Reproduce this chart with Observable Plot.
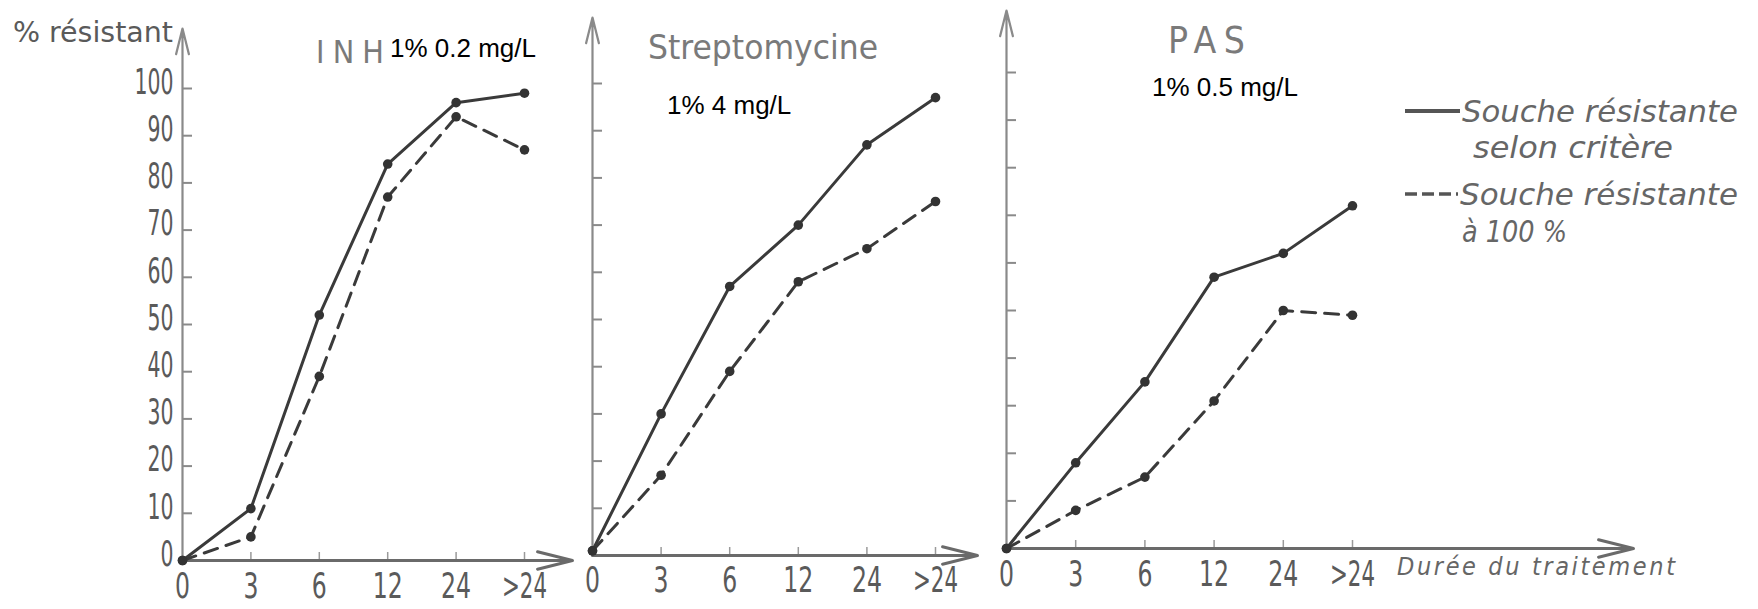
<!DOCTYPE html>
<html>
<head>
<meta charset="utf-8">
<script src="https://cdn.jsdelivr.net/npm/d3@7"></script>
<script src="https://cdn.jsdelivr.net/npm/@observablehq/plot@0.6"></script>
<style>
  html, body { margin: 0; padding: 0; background: #fff; }
  #chart { position: relative; width: 1758px; height: 609px; overflow: hidden; background: #fff; }
  #chart svg { position: absolute; left: 0; top: 0; }
</style>
</head>
<body>
<div id="chart"></div>
<script>
// Duration of treatment (months) and % of resistant strains
const durations = ["0", "3", "6", "12", "24", ">24"];
const yTicks = [0, 10, 20, 30, 40, 50, 60, 70, 80, 90, 100];

// INH 1% 0.2 mg/L
const inhCritere = [0, 11, 52, 84, 97, 99];
const inhTotal = [0, 5, 39, 77, 94, 87];
// Streptomycine 1% 4 mg/L
const strepCritere = [1, 30, 57, 70, 87, 97];
const strepTotal = [1, 17, 39, 58, 65, 75];
// PAS 1% 0.5 mg/L
const pasCritere = [0, 18, 35, 57, 62, 72];
const pasTotal = [0, 8, 15, 31, 50, 49];

const W = 1758, H = 609;
const stencil = "'Liberation Sans Narrow', 'DejaVu Sans Condensed', 'DejaVu Sans', sans-serif";
const condensed = "'DejaVu Sans Condensed', 'DejaVu Sans', sans-serif";
const ink = "#3a3a3a";

// Panel frames in pixels: origin, spacing per category, spacing per %, arrow tips
const panels = [
  {critere: inhCritere, total: inhTotal, left: 182, bottom: 560, step: 68.4, unit: 4.72, xEnd: 572, yEnd: 28, labelDy: 26, yLabels: true},
  {critere: strepCritere, total: strepTotal, left: 592, bottom: 555, step: 68.6, unit: 4.72, xEnd: 977, yEnd: 17, labelDy: 25, yLabels: false},
  {critere: pasCritere, total: pasTotal, left: 1006, bottom: 548, step: 69.2, unit: 4.76, xEnd: 1633, yEnd: 10, labelDy: 26, yLabels: false}
];

const root = document.getElementById("chart");

// narrow the stencil-like numerals to their drawn width (x labels first, then y labels)
function squeeze(svg, widths) {
  d3.select(svg).selectAll('g[aria-label="text"]').each(function (_, k) {
    const perChar = widths[k] ?? widths[0];
    d3.select(this).selectAll("text")
      .attr("textLength", function () { return this.textContent.length * perChar; })
      .attr("lengthAdjust", "spacingAndGlyphs");
  });
}

for (const p of panels) {
  const frameW = p.xEnd - p.left;
  const frameH = p.bottom - p.yEnd;
  const xMax = frameW / p.step;
  const yMax = frameH / p.unit;
  const rows = vals => vals.map((v, i) => ({i, v}));
  const svg = Plot.plot({
    width: W,
    height: H,
    marginLeft: p.left,
    marginRight: W - p.xEnd,
    marginTop: p.yEnd,
    marginBottom: H - p.bottom,
    x: {domain: [0, xMax], axis: null},
    y: {domain: [0, yMax], axis: null},
    style: {background: "transparent", overflow: "visible", fontFamily: stencil, color: "#555"},
    marks: [
      // short ticks on the inner side of the vertical axis
      Plot.tickY(yTicks.filter(t => t > 0), {y: d => d, insetRight: frameW - 10, stroke: "#8a8a8a", strokeWidth: 2}),
      // small marks above the horizontal axis at each duration
      Plot.tickX(durations.map((d, i) => i).filter(i => i > 0), {x: d => d, insetTop: frameH - 8, stroke: "#9a9a9a", strokeWidth: 1.5}),
      // axes drawn as arrows
      Plot.arrow([0], {x1: 0, y1: 0, x2: 0, y2: yMax, stroke: "#8a8a8a", strokeWidth: 2.2, headLength: 18, headAngle: 28}),
      Plot.arrow([0], {x1: 0, y1: 0, x2: xMax, y2: 0, stroke: "#6a6a6a", strokeWidth: 3, headLength: 18, headAngle: 28}),
      // series
      Plot.line(rows(p.total), {x: "i", y: "v", stroke: ink, strokeWidth: 3, strokeDasharray: "14,9"}),
      Plot.line(rows(p.critere), {x: "i", y: "v", stroke: ink, strokeWidth: 3}),
      Plot.dot([...rows(p.critere), ...rows(p.total)], {x: "i", y: "v", r: 4.8, fill: "#333"}),
      // duration labels
      Plot.text(durations, {x: (d, i) => i, frameAnchor: "bottom", lineAnchor: "middle", dy: p.labelDy, text: d => d, fontSize: 36, fill: "#5a5a5a"}),
      p.yLabels
        ? Plot.text(yTicks, {y: d => d, frameAnchor: "left", textAnchor: "end", dx: -9, dy: -6, text: d => String(d), fontSize: 35, fill: "#5a5a5a"})
        : null
    ]
  });
  squeeze(svg, [15, 13]);
  root.appendChild(svg);
}

// Titles, concentrations, legend and axis captions
const notes = d3.select(root).append("svg")
  .attr("width", W).attr("height", H)
  .style("pointer-events", "none");

const labels = [
  {t: "% résistant", x: 13, y: 32, size: 28, fill: "#5a5a5a", family: condensed, len: 160, adjust: "spacingAndGlyphs"},
  {t: "INH", x: 316, y: 52, size: 32, fill: "#7a7a7a", family: condensed, len: 68, adjust: "spacing"},
  {t: "Streptomycine", x: 648, y: 47, size: 34, fill: "#7a7a7a", family: condensed, len: 230, adjust: "spacingAndGlyphs"},
  {t: "PAS", x: 1168, y: 40, size: 37, fill: "#7a7a7a", family: condensed, len: 77, adjust: "spacing"},
  {t: "1% 0.2 mg/L", x: 390, y: 48, size: 26, fill: "#000", family: "'Liberation Sans', Arial, sans-serif"},
  {t: "1% 4 mg/L", x: 667, y: 105, size: 26, fill: "#000", family: "'Liberation Sans', Arial, sans-serif"},
  {t: "1% 0.5 mg/L", x: 1152, y: 87, size: 26, fill: "#000", family: "'Liberation Sans', Arial, sans-serif"},
  {t: "Souche résistante", x: 1462, y: 111, size: 30, fill: "#666", family: condensed, italic: true, len: 276, adjust: "spacingAndGlyphs"},
  {t: "selon critère", x: 1473, y: 147, size: 30, fill: "#666", family: condensed, italic: true, len: 200, adjust: "spacingAndGlyphs"},
  {t: "Souche résistante", x: 1460, y: 194, size: 30, fill: "#666", family: condensed, italic: true, len: 278, adjust: "spacingAndGlyphs"},
  {t: "à 100 %", x: 1462, y: 231, size: 30, fill: "#666", family: condensed, italic: true, len: 105, adjust: "spacingAndGlyphs"},
  {t: "Durée du traitement", x: 1397, y: 566, size: 25, fill: "#666", family: condensed, italic: true, len: 278, adjust: "spacing"}
];

for (const l of labels) {
  const t = notes.append("text")
    .attr("x", l.x).attr("y", l.y)
    .attr("dominant-baseline", "central")
    .attr("font-family", l.family)
    .attr("font-size", l.size)
    .attr("font-style", l.italic ? "italic" : "normal")
    .attr("fill", l.fill)
    .text(l.t);
  if (l.len) t.attr("textLength", l.len).attr("lengthAdjust", l.adjust);
}

// legend line samples
notes.append("line").attr("x1", 1405).attr("x2", 1460).attr("y1", 111).attr("y2", 111)
  .attr("stroke", "#555").attr("stroke-width", 4);
notes.append("line").attr("x1", 1405).attr("x2", 1458).attr("y1", 194).attr("y2", 194)
  .attr("stroke", "#555").attr("stroke-width", 3.5).attr("stroke-dasharray", "12,5");
</script>
</body>
</html>
